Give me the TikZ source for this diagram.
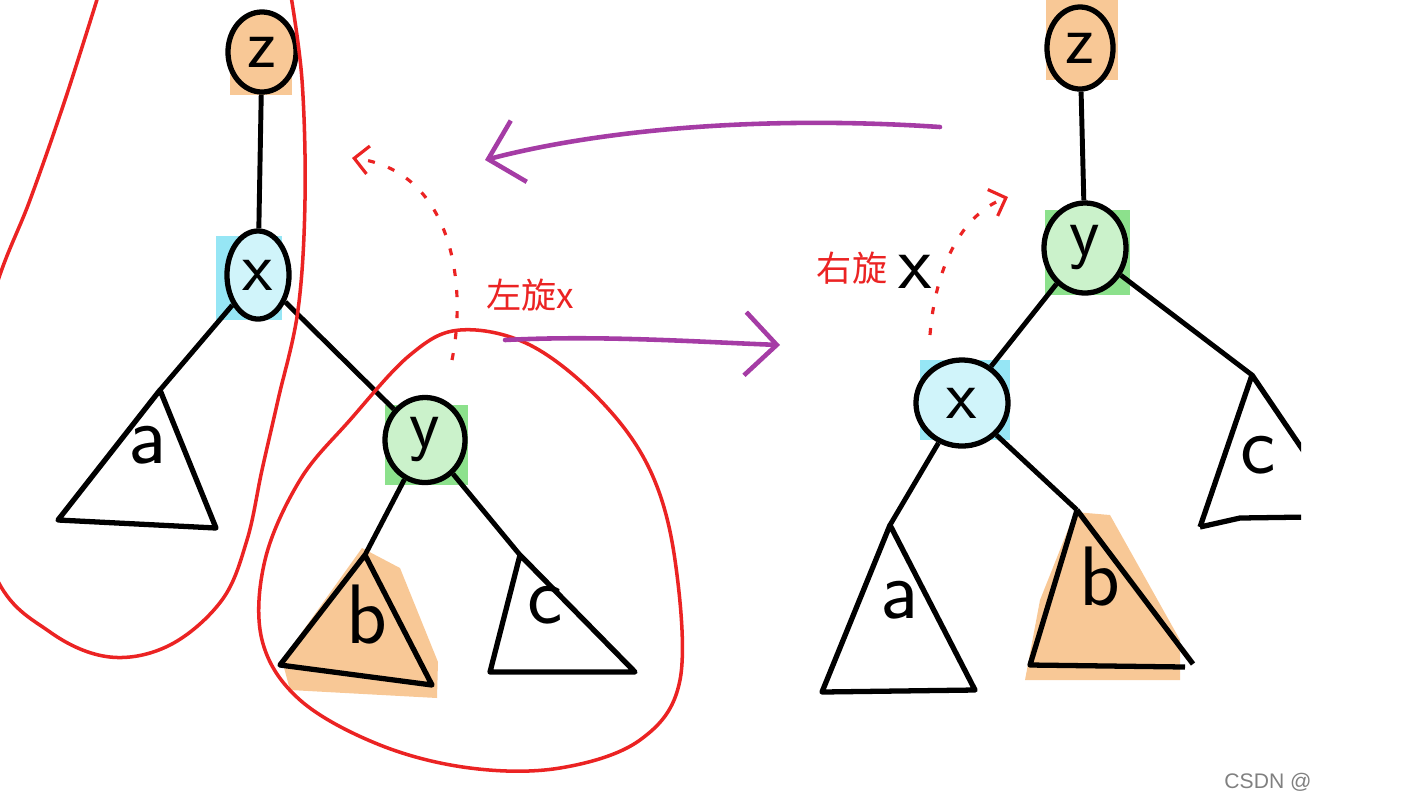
\documentclass[tikz,border=0pt]{standalone}
\usepackage{fontspec}
\newfontfamily\cjk{Noto Sans CJK SC}
\usetikzlibrary{shapes.geometric,arrows.meta}
\definecolor{zorange}{RGB}{248,200,150}
\definecolor{xcyan}{RGB}{150,230,245}
\definecolor{ygreen}{RGB}{140,225,140}
\definecolor{rotred}{RGB}{235,35,35}
\definecolor{rotpurple}{RGB}{165,60,165}
\tikzset{
  treenode/.style={draw, ellipse, line width=1.5pt, inner sep=0pt, font=\sffamily\fontsize{20}{20}\selectfont},
  edge/.style={line width=1.4pt},
  subtree/.style={line width=1.5pt, line join=round},
  leaf/.style={font=\sffamily\fontsize{24}{24}\selectfont},
  loop/.style={rotred, line width=1pt},
  rotpath/.style={rotred, line width=0.9pt, dash pattern=on 2pt off 4pt, -{Straight Barb[length=4pt,width=8pt]}},
  movearrow/.style={rotpurple, line width=1.3pt, line cap=round, -{Straight Barb[length=9pt,width=18pt]}},
  rotlabel/.style={rotred, font=\cjk\fontsize{10}{10}\selectfont}
}
\begin{document}
\begin{tikzpicture}[x=0.01cm,y=-0.01cm]
  %%%%% START %%%%%
  \useasboundingbox (0,0) rectangle (1415,802);

  % left tree, before the rotation
  \fill[zorange] (230,30) rectangle (292,95);
  \fill[xcyan] (216,236) rectangle (282,320);
  \fill[ygreen] (385,405) rectangle (468,485);
  \fill[zorange] (362,548) -- (400,568) -- (438,662) -- (437,698) -- (290,690) -- (282,660) -- cycle;

  \node[treenode, fill=zorange, minimum width=0.68cm, minimum height=0.80cm] (zL) at (262,52) {z};
  \node[treenode, fill=xcyan!45, minimum width=0.62cm, minimum height=0.88cm] (xL) at (258,275) {x};
  \node[treenode, fill=ygreen!45, minimum width=0.80cm, minimum height=0.85cm] (yL) at (425,440) {y};

  \coordinate (aL) at (160,390);
  \coordinate (bL) at (365,555);
  \coordinate (cL) at (520,555);

  \draw[edge] (zL) -- (xL);
  \draw[edge] (xL) -- (aL);
  \draw[edge] (xL) -- (yL);
  \draw[edge] (yL) -- (bL);
  \draw[edge] (yL) -- (cL);

  \draw[subtree] (aL) -- (216,528) -- (58,520) -- cycle;
  \draw[subtree] (bL) -- (432,685) -- (280,665) -- cycle;
  \draw[subtree] (cL) -- (635,672) -- (490,672) -- cycle;
  \node[leaf] (aLtext) at (148,445) {a};
  \node[leaf] (bLtext) at (367,615) {b};
  \node[leaf] (cLtext) at (545,605) {c};

  % red loops round the two parts
  \begin{scope}
    \clip (0,0) rectangle (1415,802);
    \draw[loop] plot[smooth, tension=0.6] coordinates {(100,-10) (65,100) (30,200) (-5,290) (-40,430) (-5,575) (50,632) (110,657) (170,645) (222,600) (247,540) (262,470) (278,400) (298,310) (305,200) (302,80) (290,-10)};
  \end{scope}
  \draw[loop] plot[smooth cycle, tension=0.6] coordinates {(460,330) (530,345) (600,400) (650,470) (675,560) (680,680) (640,740) (560,768) (470,768) (380,745) (300,700) (262,640) (265,560) (300,480) (350,420) (410,355)};

  % rotation paths and labels
  \draw[rotpath] (452,360) .. controls (468,280) and (450,170) .. (352,158);
  \node[rotlabel] (leftrot) at (530,295) {左旋x};
  \draw[rotpath] (930,335) .. controls (935,270) and (960,215) .. (1008,197);
  \node[rotlabel] (rightrot) at (852,268) {右旋};
  \node[font=\sffamily\fontsize{22}{22}\selectfont] (rightx) at (915,272) {x};

  % moves between the two trees
  \coordinate (topstart) at (940,127);
  \coordinate (topend) at (485,160);
  \coordinate (lowstart) at (505,340);
  \coordinate (lowend) at (780,345);
  \draw[movearrow] (topstart) .. controls (760,115) and (600,130) .. (topend);
  \draw[movearrow] (lowstart) .. controls (600,335) and (700,342) .. (lowend);

  % right tree, after the rotation
  \fill[zorange] (1046,0) rectangle (1118,80);
  \fill[ygreen] (1045,210) rectangle (1130,295);
  \fill[xcyan] (920,360) rectangle (1010,440);
  \fill[zorange] (1075,512) -- (1110,515) -- (1180,640) -- (1180,680) -- (1025,680) -- (1040,600) -- cycle;

  \node[treenode, fill=zorange, minimum width=0.66cm, minimum height=0.82cm] (zR) at (1080,48) {z};
  \node[treenode, fill=ygreen!45, minimum width=0.82cm, minimum height=0.90cm] (yR) at (1085,248) {y};
  \node[treenode, fill=xcyan!45, minimum width=0.92cm, minimum height=0.86cm] (xR) at (962,403) {x};

  \coordinate (aR) at (890,525);
  \coordinate (bR) at (1077,510);
  \coordinate (cR) at (1252,375);

  \draw[edge] (zR) -- (yR);
  \draw[edge] (yR) -- (xR);
  \draw[edge] (yR) -- (cR);
  \draw[edge] (xR) -- (aR);
  \draw[edge] (xR) -- (bR);

  \draw[subtree] (aR) -- (975,690) -- (822,692) -- cycle;
  \draw[subtree] (bR) -- (1193,664) (1185,667) -- (1030,665) -- (bR);
  \begin{scope}
    \clip (1150,350) rectangle (1301,560);
    \draw[subtree] (1200,527) -- (cR) -- (1330,490);
    \draw[subtree] (1200,527) -- (1240,518) -- (1310,517);
  \end{scope}
  \node[leaf] (aRtext) at (900,600) {a};
  \node[leaf] (bRtext) at (1100,577) {b};
  \node[leaf] (cRtext) at (1258,455) {c};

  \node[gray, font=\fontspec{Liberation Sans}\fontsize{6}{6}\selectfont] (mark) at (1268,782) {CSDN @};
  %%%%% END %%%%%
\end{tikzpicture}
\end{document}
